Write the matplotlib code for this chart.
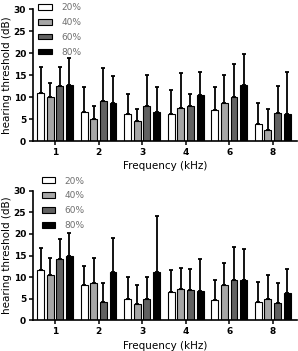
import numpy as np
from matplotlib import pyplot as plt

plt.rcParams['font.family'] = ['DejaVu Sans']

freqs = ['1', '2', '3', '4', '6', '8']
levels = ['20%', '40%', '60%', '80%']
colors = ['white', '#a6a6a6', '#616161', 'black']

# top panel: means and upper SD
top_mean = [[11.0, 6.6, 6.2, 6.2, 7.2, 3.9],
            [10.0, 5.0, 4.6, 7.5, 8.6, 2.6],
            [12.5, 9.2, 8.1, 8.1, 10.0, 6.3],
            [12.8, 8.7, 6.7, 10.5, 12.7, 6.2]]
top_err = [[6.0, 5.7, 4.6, 5.4, 5.1, 4.7],
           [3.3, 3.0, 2.8, 8.0, 6.5, 4.8],
           [4.5, 7.4, 7.0, 2.6, 7.6, 6.3],
           [6.1, 6.1, 5.6, 5.2, 7.1, 9.6]]

# bottom panel
bot_mean = [[11.6, 8.3, 4.9, 6.6, 4.8, 4.3],
            [10.6, 8.7, 3.9, 7.2, 8.1, 4.9],
            [14.2, 4.2, 5.0, 7.0, 9.3, 4.1],
            [15.0, 11.2, 11.2, 6.8, 9.3, 6.3]]
bot_err = [[5.1, 4.2, 5.1, 5.0, 4.5, 4.6],
           [3.8, 5.7, 4.2, 5.0, 5.1, 5.5],
           [4.6, 4.5, 5.0, 4.9, 7.7, 4.5],
           [5.3, 7.9, 12.9, 7.5, 7.1, 5.6]]

fig = plt.figure(figsize=(2.98, 3.51), dpi=100)
ax1 = fig.add_axes([0.111, 0.598, 0.886, 0.375])
ax2 = fig.add_axes([0.111, 0.087, 0.886, 0.370])

x = np.arange(len(freqs))
step = 0.22
w = 0.16

panels = [(ax1, top_mean, top_err, (0.0, 1.09)),
          (ax2, bot_mean, bot_err, (0.012, 1.15))]
for ax, means, errs, anchor in panels:
    for i in range(4):
        m = np.array(means[i])
        e = np.array(errs[i])
        ax.bar(x + (i - 1.5)*step, m, w, color=colors[i], edgecolor='black',
               linewidth=0.8, label=levels[i], zorder=2,
               yerr=[np.zeros_like(e), e], capsize=1.6,
               error_kw=dict(elinewidth=1.3, capthick=1.3, ecolor='black', zorder=1))
    ax.set_xlim(-0.506, 5.56)
    ax.set_ylim(0, 30)
    ax.set_yticks([0, 5, 10, 15, 20, 25, 30])
    ax.set_xticks(x)
    ax.set_xticklabels(freqs)
    ax.spines['top'].set_visible(False)
    ax.spines['right'].set_visible(False)
    ax.spines['left'].set_linewidth(1.2)
    ax.spines['bottom'].set_linewidth(1.2)
    ax.tick_params(axis='both', labelsize=6.5, length=3, width=1.1, pad=2)
    for t in ax.get_xticklabels() + ax.get_yticklabels():
        t.set_fontweight('bold')
    ax.set_ylabel('hearing threshold (dB)', fontsize=7.5, labelpad=1)
    ax.set_xlabel('Frequency (kHz)', fontsize=7.5, labelpad=3)
    leg = ax.legend(loc='upper left', bbox_to_anchor=anchor, frameon=False,
                    fontsize=6.5, handlelength=1.5, handleheight=0.6,
                    handletextpad=1.0, labelspacing=0.65, borderaxespad=0.2)
    leg.set_zorder(5)
    for t in leg.get_texts():
        t.set_color('#707070')

fig.savefig('out.png', dpi=100)
